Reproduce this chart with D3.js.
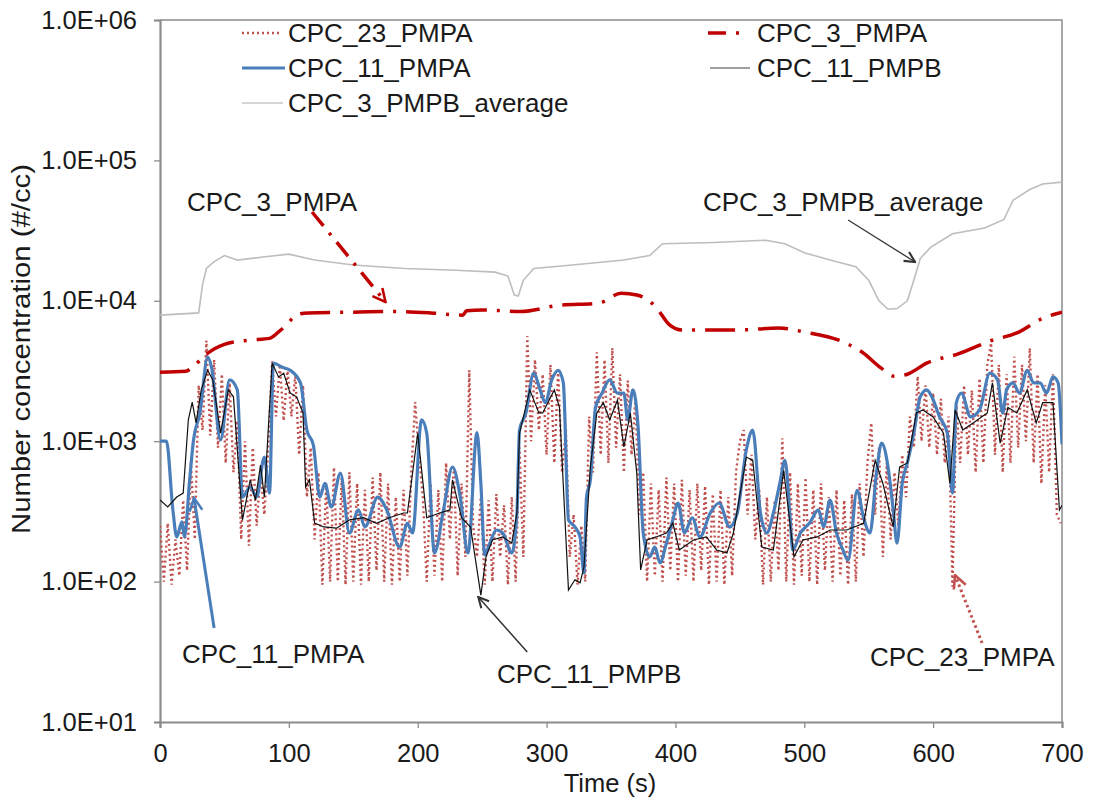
<!DOCTYPE html>
<html>
<head>
<meta charset="utf-8">
<script src="https://cdn.jsdelivr.net/npm/d3@7"></script>
<style>
  body { margin: 0; background: #fff; }
  svg { font-family: "Liberation Sans", Arial, sans-serif; }
</style>
</head>
<body>
<script>
// ---- data ----
var timeTicks = [0, 100, 200, 300, 400, 500, 600, 700];
var concTicks = [10, 100, 1000, 10000, 100000, 1000000];

// CPC_23_PMPA, one value every 3 s (0..699)
var cpc23Step = 3;
var cpc23 = [
  250,100,260,95,200,110,380,120,700,200,
  2500,1200,5200,1100,3800,900,3000,700,2600,600,
  1400,200,1000,180,900,250,600,300,900,3700,
  1500,3500,1400,3300,1500,3000,800,2500,400,900,
  200,600,95,500,100,650,100,550,95,600,
  100,500,95,450,100,550,120,600,100,500,
  95,400,100,450,110,600,1900,800,400,100,
  500,110,450,100,700,200,650,110,500,150,
  3200,250,150,400,95,380,100,420,150,350,
  95,400,100,900,150,5600,1000,3800,1200,3000,
  800,3500,700,3200,600,1200,150,300,95,250,
  100,1500,600,4300,800,3800,700,4600,900,3000,
  600,2700,800,2000,300,600,100,500,110,450,
  100,550,120,500,100,530,110,450,100,500,
  120,480,95,420,100,450,95,400,110,600,
  1000,1200,300,800,200,450,95,400,100,380,
  120,1050,100,600,95,500,110,550,100,450,
  95,500,120,400,100,450,110,380,95,420,
  100,500,150,700,1350,300,900,150,700,200,
  600,250,800,400,1500,900,2900,1000,2500,900,
  2200,800,2000,700,1500,92,1800,700,2500,800,
  2300,600,2800,700,3500,5000,800,3500,600,3000,
  700,4000,900,3500,1000,4600,700,3000,500,2500,
  600,3000,300,260
];

// CPC_3_PMPA [time, value]
var cpc3A = [
  [0,3100],[20,3150],[25,3350],[35,4100],[50,4900],[70,5250],[85,5400],[92,6000],
  [100,7000],[105,7900],[115,8200],[150,8300],[180,8400],[210,8200],[235,7900],
  [238,8500],[250,8600],[280,8400],[310,9300],[340,9600],[358,11300],[370,11000],
  [385,9000],[395,6800],[405,6200],[450,6200],[480,6400],[500,6000],[530,5100],
  [545,4300],[560,3300],[570,2900],[580,3000],[595,3600],[620,4200],[645,5200],
  [665,5900],[685,7500],[700,8300]
];

// CPC_11_PMPA [time, value]
var cpc11A = [
  [0,1000],[5,1000],[10,324],[13,208],[17,266],[19,208],[23,530],[26,1020],[31,1590],
  [37,3980],[40,3360],[47,1020],[54,2730],[60,2320],[64,400],[70,472],[75,400],[81,771],
  [85,427],[88,3600],[95,3360],[101,3200],[109,2600],[114,1200],[119,940],[124,400],
  [128,500],[133,340],[140,593],[147,222],[154,324],[159,245],[169,400],[176,324],
  [186,176],[192,260],[196,222],[203,1420],[207,1140],[213,160],[220,324],[227,655],
  [233,400],[239,160],[246,1150],[249,500],[252,155],[256,188],[261,233],[266,222],
  [273,160],[277,308],[279,1200],[284,1590],[290,3050],[295,2320],[299,1880],[304,2730],
  [309,3200],[313,2600],[317,275],[322,245],[326,208],[329,115],[331,400],[334,530],
  [338,1740],[343,2200],[349,2730],[355,2200],[360,2200],[363,1420],[367,2320],[371,1270],
  [375,222],[380,150],[384,176],[388,136],[393,188],[398,275],[402,363],[407,222],
  [413,285],[419,208],[427,308],[434,363],[442,245],[448,308],[455,866],[460,1200],
  [466,308],[471,222],[476,308],[481,500],[485,730],[489,285],[491,168],[497,222],
  [504,260],[511,324],[515,245],[520,381],[525,222],[530,168],[534,142],[541,447],
  [546,285],[551,222],[556,593],[560,970],[565,655],[569,324],[572,188],[576,500],
  [580,700],[585,1140],[590,2070],[595,2320],[599,2070],[605,1490],[611,1140],[615,427],
  [618,1880],[622,2200],[629,1490],[636,1670],[644,3050],[650,2730],[654,1590],[657,2320],
  [662,2600],[667,2200],[673,3200],[678,2600],[683,2600],[688,2200],[693,2870],[697,2600],
  [700,950]
];

// CPC_11_PMPB [time, value]
var cpc11B = [
  [0,381],[6,340],[13,400],[18,427],[22,1420],[25,1900],[28,1350],[32,2320],[37,3200],
  [41,2730],[47,1140],[53,2320],[57,2070],[64,275],[70,530],[74,381],[78,677],[81,400],
  [87,3600],[92,2870],[96,3050],[101,2200],[106,2070],[111,1590],[113,472],[116,530],
  [120,261],[127,245],[137,240],[147,275],[158,285],[168,260],[178,285],[189,308],
  [192,308],[200,1140],[207,285],[217,308],[225,324],[227,530],[234,285],[241,245],
  [249,80],[253,150],[258,198],[266,208],[273,188],[277,308],[279,1140],[287,2320],
  [294,1590],[297,1590],[306,2320],[310,1740],[317,87],[322,103],[326,98],[329,127],
  [334,655],[339,1590],[344,1880],[349,1420],[355,1960],[360,910],[365,1590],[370,593],
  [373,121],[378,198],[385,208],[393,222],[398,261],[403,168],[414,198],[424,208],
  [432,168],[440,160],[445,222],[455,771],[460,730],[467,176],[476,168],[484,620],
  [492,150],[499,198],[510,208],[520,233],[533,233],[546,260],[555,730],[561,500],
  [569,245],[574,655],[580,700],[587,1590],[592,1670],[600,1490],[608,1140],[613,500],
  [617,1670],[623,1200],[631,1350],[642,1590],[646,2600],[652,970],[658,1740],[665,1590],
  [673,2320],[680,1350],[685,1880],[693,1880],[698,324],[700,350]
];

// CPC_3_PMPB_average [time, value]
var cpc3Bavg = [
  [0,7900],[30,8200],[33,13000],[36,17000],[42,19000],[50,21000],[60,19500],[80,20500],
  [100,21500],[120,19500],[150,18000],[190,17000],[230,16500],[260,16000],[270,15000],
  [275,11000],[278,10800],[282,14000],[290,17000],[320,18000],[360,19500],[380,21000],
  [390,25500],[430,26000],[470,27000],[485,25500],[500,22000],[520,19500],[540,17500],
  [550,14000],[558,10000],[565,8700],[572,8800],[580,10000],[585,14000],[590,20000],
  [598,24000],[615,30000],[640,33000],[655,38000],[662,52000],[675,62000],[685,68000],
  [700,70000]
];

// ---- layout ----
var margin = {top: 20, right: 33, bottom: 78, left: 160},
    width = 1095 - margin.left - margin.right,
    height = 800 - margin.top - margin.bottom;

var x = d3.scaleLinear().domain([0, 700]).range([0, width]);
var y = d3.scaleLog().domain([10, 1000000]).range([height, 0]);

var svg = d3.select("body").append("svg")
  .attr("width", 1095)
  .attr("height", 800);

var defs = svg.append("defs");
defs.append("clipPath").attr("id", "plot")
  .append("rect").attr("width", width).attr("height", height);

function arrowMarker(id, color, size) {
  defs.append("marker")
    .attr("id", id)
    .attr("viewBox", "0 0 10 10")
    .attr("refX", 9).attr("refY", 5)
    .attr("markerUnits", "userSpaceOnUse")
    .attr("markerWidth", size).attr("markerHeight", size)
    .attr("orient", "auto")
    .append("path")
    .attr("d", "M1,1 L9,5 L1,9")
    .attr("fill", "none")
    .attr("stroke", color)
    .attr("stroke-width", 1.6);
}
arrowMarker("arRed", "#c00000", 16);
arrowMarker("arRedDot", "#c0504d", 16);
arrowMarker("arBlue", "#4a7ebb", 16);
arrowMarker("arBlack", "#333", 13);

var g = svg.append("g")
  .attr("transform", "translate(" + margin.left + "," + margin.top + ")");

// frame (top + right)
g.append("path")
  .attr("d", "M0,0H" + width + "V" + height)
  .attr("fill", "none")
  .attr("stroke", "#8c8c8c")
  .attr("stroke-width", 1.5);

// axes
var yAxis = g.append("g")
  .call(d3.axisLeft(y).tickValues(concTicks).tickSize(6).tickPadding(17)
    .tickFormat(function(d) { var e = Math.round(Math.log10(d)); return "1.0E+" + (e < 10 ? "0" : "") + e; }));
var xAxis = g.append("g")
  .attr("transform", "translate(0," + height + ")")
  .call(d3.axisBottom(x).tickValues(timeTicks).tickSize(6).tickFormat(d3.format("d")));

[yAxis, xAxis].forEach(function(a) {
  a.select(".domain").attr("stroke", "#8c8c8c").attr("stroke-width", 2.2);
  a.selectAll(".tick line").attr("stroke", "#8c8c8c").attr("stroke-width", 1.3);
  a.selectAll("text").attr("fill", "#1a1a1a").style("font-size", "25.5px");
});
xAxis.selectAll("text").attr("dy", null).attr("y", 40);

g.append("text")
  .attr("x", width / 2 - 1).attr("y", height + 70)
  .attr("text-anchor", "middle")
  .attr("fill", "#1a1a1a")
  .style("font-size", "25.5px")
  .text("Time (s)");

g.append("text")
  .attr("transform", "translate(" + (-margin.left + 30) + "," + (height / 2 - 22) + ") rotate(-90)")
  .attr("text-anchor", "middle")
  .attr("fill", "#1a1a1a")
  .style("font-size", "25px")
  .attr("textLength", 370)
  .attr("lengthAdjust", "spacingAndGlyphs")
  .text("Number concentration (#/cc)");

// ---- series ----
var plot = g.append("g").attr("clip-path", "url(#plot)");

var line = d3.line()
  .x(function(d) { return x(d[0]); })
  .y(function(d) { return y(d[1]); });
var smooth = d3.line()
  .curve(d3.curveMonotoneX)
  .x(function(d) { return x(d[0]); })
  .y(function(d) { return y(d[1]); });

var cpc23Pts = cpc23.map(function(v, i) { return [i * cpc23Step, v]; });

plot.append("path").datum(cpc23Pts)
  .attr("d", line)
  .attr("fill", "none")
  .attr("stroke", "#c0504d")
  .attr("stroke-width", 2.4)
  .attr("stroke-dasharray", "2,3");

plot.append("path").datum(cpc3A)
  .attr("d", smooth)
  .attr("fill", "none")
  .attr("stroke", "#c00000")
  .attr("stroke-width", 3.5)
  .attr("stroke-dasharray", "30,10,3,10");

plot.append("path").datum(cpc11A)
  .attr("d", smooth)
  .attr("fill", "none")
  .attr("stroke", "#4a7ebb")
  .attr("stroke-width", 3.2)
  .attr("stroke-linejoin", "round");

plot.append("path").datum(cpc11B)
  .attr("d", line)
  .attr("fill", "none")
  .attr("stroke", "#111")
  .attr("stroke-width", 1.2);

plot.append("path").datum(cpc3Bavg)
  .attr("d", line)
  .attr("fill", "none")
  .attr("stroke", "#bdbdbd")
  .attr("stroke-width", 1.6);

// ---- legend ----
var legendItems = [
  {name: "CPC_23_PMPA", col: 0, row: 0, color: "#c0504d", w: 2.4, dash: "2,3", x0: 82, x1: 120},
  {name: "CPC_3_PMPA", col: 1, row: 0, color: "#c00000", w: 3.5, dash: "18,10,3,20", x0: 548, x1: 592},
  {name: "CPC_11_PMPA", col: 0, row: 1, color: "#4a7ebb", w: 3.2, dash: null, x0: 82, x1: 125},
  {name: "CPC_11_PMPB", col: 1, row: 1, color: "#7f7f7f", w: 1.5, dash: null, x0: 550, x1: 590},
  {name: "CPC_3_PMPB_average", col: 0, row: 2, color: "#c8c8c8", w: 1.6, dash: null, x0: 82, x1: 123}
];
var legend = g.append("g");
legendItems.forEach(function(it) {
  var ly = 13 + it.row * 35;
  legend.append("line")
    .attr("x1", it.x0).attr("x2", it.x1)
    .attr("y1", ly).attr("y2", ly)
    .attr("stroke", it.color)
    .attr("stroke-width", it.w)
    .attr("stroke-dasharray", it.dash);
  legend.append("text")
    .attr("x", it.col === 0 ? 128 : 597)
    .attr("y", ly + 9)
    .attr("fill", "#1a1a1a")
    .style("font-size", "26px")
    .text(it.name);
});

// ---- annotations (data coordinates) ----
var arrows = [
  {from: [118, 42900], to: [175, 9800], color: "#c00000", w: 3.5, dash: "18,9,3,9", marker: "arRed"},
  {from: [534, 37600], to: [586, 18900], color: "#333", w: 1.3, dash: null, marker: "arBlack"},
  {from: [42, 46.7], to: [26.4, 394], color: "#4a7ebb", w: 3, dash: null, marker: "arBlue"},
  {from: [285, 31.5], to: [247, 77.7], color: "#333", w: 1.5, dash: null, marker: "arBlack"},
  {from: [638, 36.5], to: [617, 111], color: "#c0504d", w: 3, dash: "2.5,3", marker: "arRedDot"}
];
arrows.forEach(function(a) {
  g.append("line")
    .attr("x1", x(a.from[0])).attr("y1", y(a.from[1]))
    .attr("x2", x(a.to[0])).attr("y2", y(a.to[1]))
    .attr("stroke", a.color)
    .attr("stroke-width", a.w)
    .attr("stroke-dasharray", a.dash)
    .attr("marker-end", "url(#" + a.marker + ")");
});

var labels = [
  {text: "CPC_3_PMPA", at: [21, 43600]},
  {text: "CPC_3_PMPB_average", at: [421.4, 43600]},
  {text: "CPC_11_PMPA", at: [17, 26.3]},
  {text: "CPC_11_PMPB", at: [261.5, 18.95]},
  {text: "CPC_23_PMPA", at: [551, 25.1]}
];
labels.forEach(function(l) {
  g.append("text")
    .attr("x", x(l.at[0])).attr("y", y(l.at[1]))
    .attr("fill", "#1a1a1a")
    .style("font-size", "26px")
    .text(l.text);
});
</script>
</body>
</html>
